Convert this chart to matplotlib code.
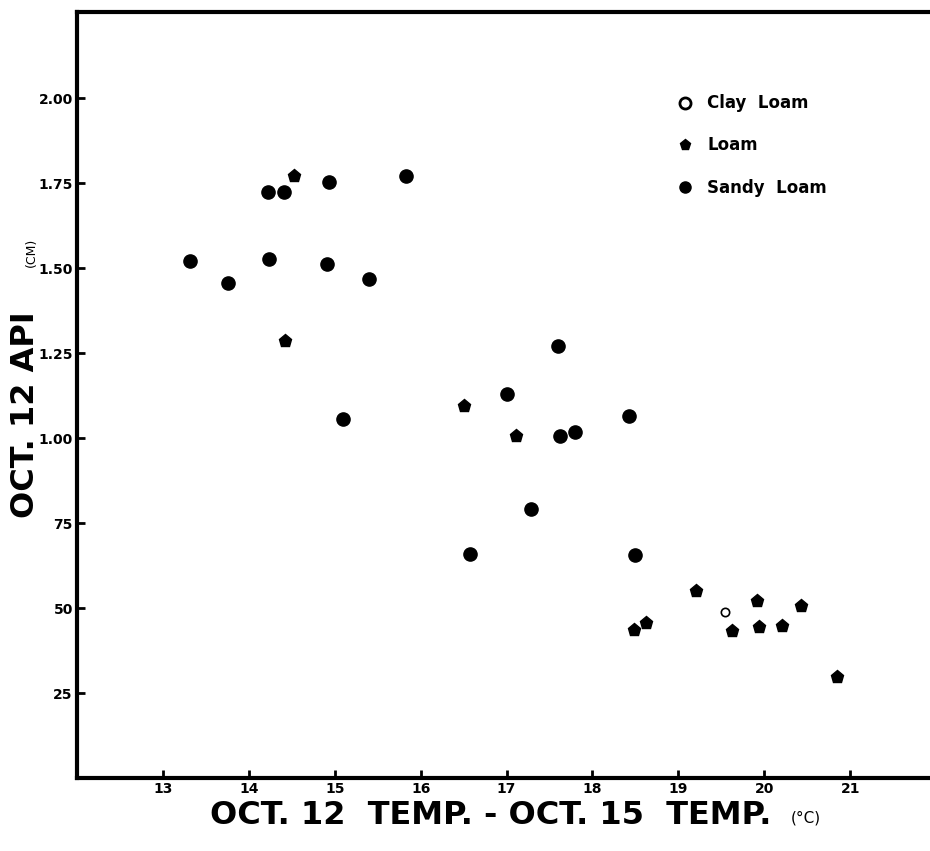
import matplotlib
matplotlib.use("Agg")
import matplotlib.pyplot as plt
from matplotlib import font_manager
from matplotlib.lines import Line2D

# values
sandy_x = [13.31, 13.76, 14.23, 14.22, 14.41, 14.91, 14.93, 15.40, 15.83, 15.10,
           17.01, 17.60, 17.62, 17.80, 18.42, 17.29, 16.58, 18.50]
sandy_y = [1.52, 1.455, 1.527, 1.724, 1.723, 1.512, 1.754, 1.468, 1.771, 1.056,
           1.130, 1.271, 1.006, 1.017, 1.065, 0.791, 0.66, 0.655]

loam_x = [14.52, 14.42, 16.50, 17.11, 18.48, 18.62, 19.21, 19.62, 19.92, 19.94,
          20.21, 20.43, 20.85]
loam_y = [1.771, 1.286, 1.094, 1.006, 0.435, 0.457, 0.550, 0.433, 0.522, 0.445,
          0.447, 0.507, 0.296]

clay_x = [19.54]
clay_y = [0.489]

x_ticks = [13, 14, 15, 16, 17, 18, 19, 20, 21]
y_ticks = [0.25, 0.50, 0.75, 1.00, 1.25, 1.50, 1.75, 2.00]
y_tick_labels = ["25", "50", "75", "1.00", "1.25", "1.50", "1.75", "2.00"]

# narrow bold face looks closer to the old lettering, if it is there
installed = {f.name for f in font_manager.fontManager.ttflist}
if 'Liberation Sans Narrow' in installed:
    title_font = 'Liberation Sans Narrow'
    xl_size, yl_size = 30, 31
else:
    title_font = 'DejaVu Sans'
    xl_size, yl_size = 23, 23

W, H = 930, 851
fig = plt.figure(figsize=(W / 100, H / 100), dpi=100)
ax = fig.add_axes([77 / W, (H - 778) / H, 860 / W, 766 / H])

ax.plot(sandy_x, sandy_y, 'o', color='black', markersize=9.5, linestyle='none')
ax.plot(loam_x, loam_y, 'p', color='black', markersize=9.5, linestyle='none')
ax.plot(clay_x, clay_y, 'o', markerfacecolor='none', markeredgecolor='black',
        markeredgewidth=1.2, markersize=6, linestyle='none')

ax.set_xlim(12, 22.01)
ax.set_ylim(0, 2.253)

for side in ['left', 'bottom', 'top']:
    ax.spines[side].set_linewidth(3)
ax.spines['right'].set_visible(False)

ax.set_xticks(x_ticks)
ax.set_xticklabels([str(t) for t in x_ticks])
ax.set_yticks(y_ticks)
ax.set_yticklabels(y_tick_labels)
ax.tick_params(direction='in', length=6, width=2, labelsize=10, pad=3)
for lbl in ax.get_xticklabels() + ax.get_yticklabels():
    lbl.set_fontweight('bold')
    lbl.set_family([title_font, 'DejaVu Sans'])

# legend (order as in the original)
handles = [
    Line2D([], [], marker='o', markerfacecolor='none', markeredgecolor='black',
           markeredgewidth=2, markersize=8, linestyle='none'),
    Line2D([], [], marker='p', color='black', markersize=8, linestyle='none'),
    Line2D([], [], marker='o', color='black', markersize=8, linestyle='none'),
]
labels = ['Clay  Loam', 'Loam', 'Sandy  Loam']
ax.legend(handles, labels, loc='upper left', bbox_to_anchor=(668 / W, 1 - 86 / H),
          bbox_transform=fig.transFigure, frameon=False, borderpad=0,
          handlelength=1.0, handletextpad=0.85, labelspacing=1.45,
          prop={'weight': 'bold', 'size': 12})

# axis titles
fig.text(491 / W, 1 - 816 / H, "OCT. 12  TEMP. - OCT. 15  TEMP.", ha='center',
         va='center', fontsize=xl_size, fontweight='bold',
         family=[title_font, 'DejaVu Sans'])
fig.text(806 / W, 1 - 818 / H, "(°C)", ha='center', va='center', fontsize=11)
fig.text(26 / W, 1 - 415 / H, "OCT. 12 API", ha='center', va='center',
         rotation=90, fontsize=yl_size, fontweight='bold',
         family=[title_font, 'DejaVu Sans'])
fig.text(31 / W, 1 - 252 / H, "(CM)", ha='center', va='center', rotation=90,
         fontsize=9)

fig.savefig("out.png", dpi=100)
